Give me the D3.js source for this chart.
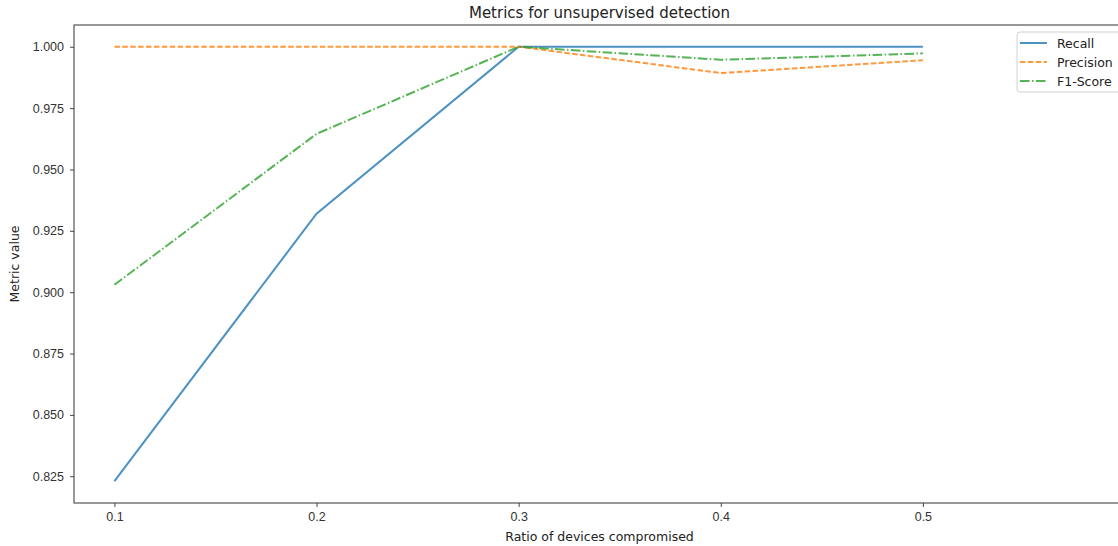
<!DOCTYPE html>
<html>
<head>
<meta charset="utf-8">
<script src="https://cdn.jsdelivr.net/npm/d3@7"></script>
<style>
  body { margin: 0; background: #fff; }
  svg { display: block; font-family: "DejaVu Sans", sans-serif; }
</style>
</head>
<body>
<svg id="chart" width="1118" height="546"></svg>
<script>
// data
var ratios = [0.1, 0.2, 0.3, 0.4, 0.5];
var recall = [0.823, 0.932, 1.000, 1.000, 1.000];
var precision = [1.000, 1.000, 1.000, 0.9893, 0.9945];
var f1score = [0.903, 0.9645, 1.000, 0.9947, 0.9973];
var xTicks = [0.1, 0.2, 0.3, 0.4, 0.5];
var yTicks = [0.825, 0.850, 0.875, 0.900, 0.925, 0.950, 0.975, 1.000];

var seriesNames = ['Recall', 'Precision', 'F1-Score'];
var seriesColors = ['#1f77b4', '#ff7f0e', '#2ca02c'];
var seriesDash = [null, '5.5,2.4', '9.6,2.4,1.5,2.4'];
var seriesValues = [recall, precision, f1score];

// plot box (window.top is reserved, so use other names)
var plotLeft = 74, plotRight = 1125, plotTop = 25, plotBottom = 503;

var svg = d3.select('#chart');

var x = d3.scaleLinear().domain([0.08, 0.6]).range([plotLeft, plotRight]);
var y = d3.scaleLinear().domain([0.8141, 1.00886]).range([plotBottom, plotTop]);

// lines
var line = d3.line()
  .x(function(d) { return x(d[0]); })
  .y(function(d) { return y(d[1]); });

seriesValues.forEach(function(vals, i) {
  var pts = ratios.map(function(r, j) { return [r, vals[j]]; });
  svg.append('path')
    .attr('d', line(pts))
    .attr('fill', 'none')
    .attr('stroke', seriesColors[i])
    .attr('stroke-opacity', 0.8)
    .attr('stroke-width', 2)
    .attr('stroke-dasharray', seriesDash[i]);
});

// axes
var xAxis = d3.axisBottom(x).tickValues(xTicks).tickFormat(d3.format('.1f')).tickSize(4).tickPadding(5);
var yAxis = d3.axisLeft(y).tickValues(yTicks).tickFormat(d3.format('.3f')).tickSize(4).tickPadding(6);

var gx = svg.append('g').attr('transform', 'translate(0,' + plotBottom + ')').call(xAxis);
var gy = svg.append('g').attr('transform', 'translate(' + plotLeft + ',0)').call(yAxis);

[gx, gy].forEach(function(g) {
  g.select('.domain').remove();
  g.selectAll('.tick line').attr('stroke', '#333').attr('stroke-width', 0.9);
  g.selectAll('.tick text').attr('fill', '#333').style('font-size', '12.5px');
});

// spines
svg.append('rect')
  .attr('x', plotLeft).attr('y', plotTop)
  .attr('width', plotRight - plotLeft).attr('height', plotBottom - plotTop)
  .attr('fill', 'none').attr('stroke', '#333').attr('stroke-width', 1);

// title and labels
svg.append('text')
  .attr('x', (plotLeft + plotRight) / 2).attr('y', 18)
  .attr('text-anchor', 'middle')
  .style('font-size', '15px').attr('fill', '#222')
  .text('Metrics for unsupervised detection');

svg.append('text')
  .attr('x', (plotLeft + plotRight) / 2).attr('y', 541)
  .attr('text-anchor', 'middle')
  .style('font-size', '12.5px').attr('fill', '#222')
  .text('Ratio of devices compromised');

svg.append('text')
  .attr('transform', 'translate(19,' + (plotTop + plotBottom) / 2 + ') rotate(-90)')
  .attr('text-anchor', 'middle')
  .style('font-size', '12.5px').attr('fill', '#222')
  .text('Metric value');

// legend
var legend = svg.append('g');
legend.append('rect')
  .attr('x', 1017).attr('y', 32)
  .attr('width', 104).attr('height', 60)
  .attr('rx', 3)
  .attr('fill', '#fff').attr('fill-opacity', 0.8)
  .attr('stroke', '#d0d0d0');

seriesNames.forEach(function(name, i) {
  var ly = 43 + i * 19;
  legend.append('line')
    .attr('x1', 1020).attr('x2', 1047)
    .attr('y1', ly).attr('y2', ly)
    .attr('stroke', seriesColors[i])
    .attr('stroke-opacity', 0.8)
    .attr('stroke-width', 2)
    .attr('stroke-dasharray', seriesDash[i]);
  legend.append('text')
    .attr('x', 1057).attr('y', ly + 4.5)
    .style('font-size', '12.5px').attr('fill', '#222')
    .text(name);
});
</script>
</body>
</html>
